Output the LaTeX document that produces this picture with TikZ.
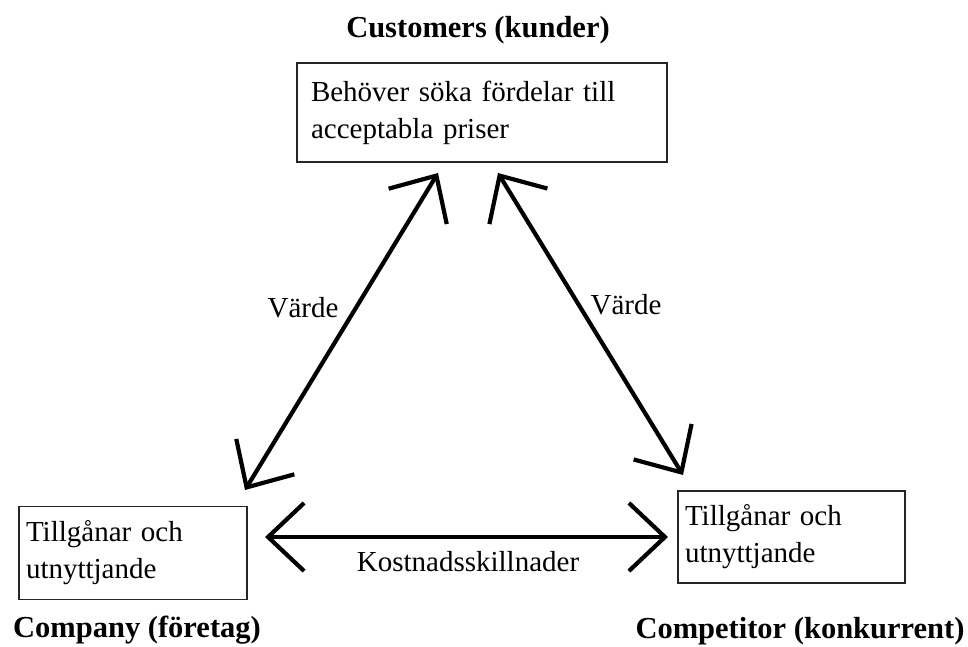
\documentclass[tikz,border=0pt]{standalone}
\usepackage{fontspec}
\setmainfont{Liberation Serif}
\usetikzlibrary{arrows.meta}

\tikzset{
  box/.style={draw=black!85, line width=1.6pt, rectangle, inner sep=0pt,
              align=left, font=\fontsize{29}{37}\selectfont},
  title/.style={font=\fontsize{30.5}{36}\selectfont\bfseries, inner sep=0pt},
  lbl/.style={font=\fontsize{29}{35}\selectfont, inner sep=0pt},
  link/.style={line width=4.2pt, line cap=round,
               {Straight Barb[length=36pt,width=68pt,line width=4.2pt]}-{Straight Barb[length=36pt,width=68pt,line width=4.2pt]}},
}

\begin{document}
\begin{tikzpicture}[x=1pt,y=-1pt]
  \useasboundingbox (0,0) rectangle (968,646);

  % customers
  \node[title] (custT) at (478,30) {Customers (kunder)};
  \node[box, minimum width=370pt, minimum height=99pt, text width=342pt]
    (cust) at (482,112.5) {Behöver söka fördelar till\\acceptabla priser};

  % company
  \node[box, minimum width=228pt, minimum height=93pt, text width=214pt]
    (comp) at (133,553) {Tillgånar och\\utnyttjande};
  \node[title] (compT) at (137,630) {Company (företag)};

  % competitor
  \node[box, minimum width=227pt, minimum height=92pt, text width=213pt]
    (cmpt) at (791.5,537) {Tillgånar och\\utnyttjande};
  \node[title] (cmptT) at (800,631) {Competitor (konkurrent)};

  % arrow end points
  \coordinate (custL) at (438,173);
  \coordinate (custR) at (498,173);
  \coordinate (compU) at (245,490);
  \coordinate (cmptU) at (683,475);
  \coordinate (compE) at (265,537);
  \coordinate (cmptW) at (668,537);

  \draw[link] (custL) -- (compU);
  \draw[link] (custR) -- (cmptU);
  \draw[link] (compE) -- (cmptW);

  \node[lbl] (v1) at (303,308) {Värde};
  \node[lbl] (v2) at (626,305) {Värde};
  \node[lbl] (k) at (468,562) {Kostnadsskillnader};
\end{tikzpicture}
\end{document}
